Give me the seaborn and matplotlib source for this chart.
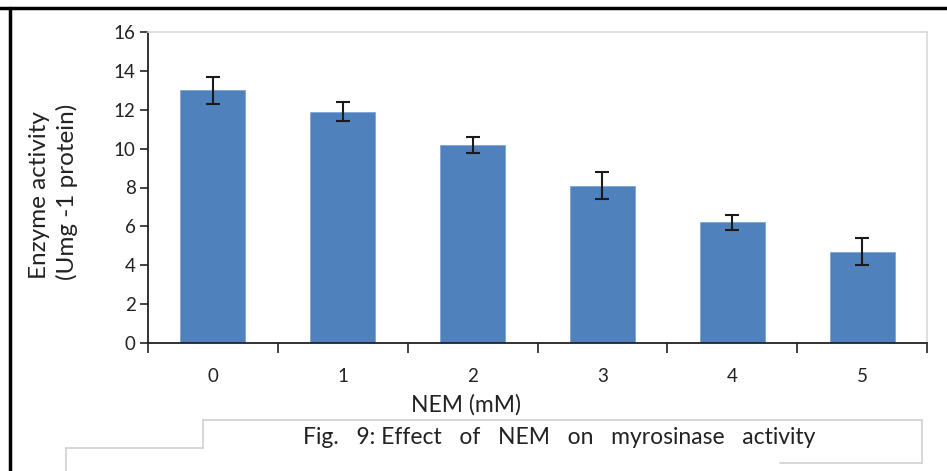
import matplotlib
matplotlib.use("Agg")
import matplotlib.pyplot as plt
from matplotlib.lines import Line2D
import seaborn as sns
import pandas as pd

categories = ["0", "1", "2", "3", "4", "5"]
activity = [13.0, 11.9, 10.2, 8.1, 6.2, 4.7]
errors = [0.7, 0.5, 0.4, 0.7, 0.4, 0.7]
y_ticks = [0, 2, 4, 6, 8, 10, 12, 14, 16]

sns.set_style("white")
plt.rcParams["font.family"] = ["Lato", "DejaVu Sans"]

W, H = 947, 471
fig = plt.figure(figsize=(W / 100, H / 100), dpi=100)
ax = fig.add_axes([148 / W, 1 - 343 / H, (927 - 148) / W, (343 - 32) / H])

df = pd.DataFrame({"NEM": categories, "activity": activity})
sns.barplot(data=df, x="NEM", y="activity", color="#4F81BD", saturation=1,
            width=0.5, errorbar=None, ax=ax, edgecolor="#7FA5D6", linewidth=0.6)
xs = [p.get_x() + p.get_width() / 2 for p in ax.patches]
ax.errorbar(xs, activity, yerr=errors, fmt="none", ecolor="#1a1a1a",
            elinewidth=1.5, capsize=5, capthick=1.5)

ax.set_xlim(-0.5, len(categories) - 0.5)
ax.set_ylim(0, 16)
ax.set_yticks(y_ticks)
ax.set_yticklabels([str(t) for t in y_ticks], fontsize=13.5, color="#222222")
ax.tick_params(axis="y", direction="out", length=6, width=1.2, color="#222222", pad=3, left=True)
ax.set_xticks(range(len(categories)))
ax.set_xticklabels(categories, fontsize=13.5, color="#222222")
ax.tick_params(axis="x", which="major", length=0, pad=18)
ax.set_xticks([i - 0.5 for i in range(len(categories) + 1)], minor=True)
ax.tick_params(axis="x", which="minor", direction="out", length=7, width=1.2,
               color="#222222", bottom=True)

for s in ["left", "bottom"]:
    ax.spines[s].set_color("#222222")
    ax.spines[s].set_linewidth(1.3)
for s in ["top", "right"]:
    ax.spines[s].set_color("#d9d9d9")
    ax.spines[s].set_linewidth(1.2)

ax.set_xlabel("")
ax.set_ylabel("")

fig.text(466 / W, 1 - 405 / H, "NEM (mM)", ha="center", va="center", fontsize=16.5, color="#222222")
fig.text(40 / W, 1 - 195 / H, "Enzyme activity", ha="center", va="center",
         rotation=90, fontsize=17.5, color="#222222")
fig.text(67 / W, 1 - 192 / H, "(Umg -1 protein)", ha="center", va="center",
         rotation=90, fontsize=17.5, color="#222222")
fig.text(303 / W, 1 - 438 / H, "Fig.   9: Effect   of   NEM   on   myrosinase   activity",
         ha="left", va="center", fontsize=16.5, color="#222222")

def fl(x0, y0, x1, y1, c="#d0d0d0", lw=1.2):
    fig.add_artist(Line2D([x0 / W, x1 / W], [1 - y0 / H, 1 - y1 / H], color=c, lw=lw))

# caption frame
fl(203, 420, 922, 420)
fl(922, 420, 922, 463)
fl(780, 463, 922, 463)
fl(203, 420, 203, 448)
fl(66, 448, 203, 448)
fl(66, 448, 66, 471)
# page border
fl(0, 8, 947, 8, c="black", lw=2.5)
fl(10, 8, 10, 471, c="black", lw=2.5)

fig.savefig("out.png", dpi=100)
